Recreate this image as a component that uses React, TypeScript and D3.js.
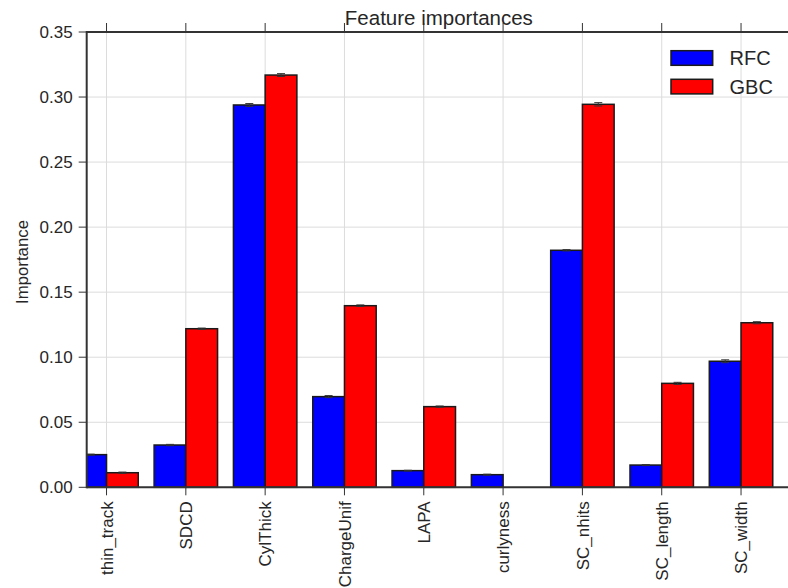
import React from "react";
import * as d3 from "d3";

const features = ["thin_track", "SDCD", "CylThick", "ChargeUnif", "LAPA", "curlyness", "SC_nhits", "SC_length", "SC_width"];
const rfcValues = [0.0251, 0.0325, 0.2939, 0.0697, 0.0128, 0.0097, 0.1822, 0.0171, 0.0969];
const gbcValues = [0.0112, 0.1219, 0.3169, 0.1396, 0.0620, 0.0, 0.2944, 0.0799, 0.1265];
const rfcErrors = [0.0004, 0.0005, 0.0011, 0.0008, 0.0003, 0.0004, 0.0005, 0.0004, 0.0011];
const gbcErrors = [0.0005, 0.0005, 0.0011, 0.0006, 0.0005, 0.0, 0.0013, 0.0008, 0.0008];
const yTicks = [0.0, 0.05, 0.1, 0.15, 0.2, 0.25, 0.3, 0.35];
const seriesNames = ["RFC", "GBC"];
const seriesColors = ["#0000ff", "#ff0000"];

const W = 788, H = 588;
const left = 86.7, right = 791, top = 32, bottom = 487.3;
const barW = 0.4;
const FONT = "'Liberation Sans', Arial, sans-serif";

export default function App() {
  const x = d3.scaleLinear().domain([-0.25, 8.63]).range([left, right]);
  const y = d3.scaleLinear().domain([0, 0.35]).range([bottom, top]);
  const series = [
    { vals: rfcValues, errs: rfcErrors, off: -barW },
    { vals: gbcValues, errs: gbcErrors, off: 0 },
  ];
  return (
    <svg width={W} height={H} style={{ position: "fixed", left: 0, top: 0, background: "#fff" }} fontFamily={FONT}>
      <defs>
        <clipPath id="plot">
          <rect x={left} y={top - 2} width={right - left} height={bottom - top + 4} />
        </clipPath>
      </defs>
      {yTicks.map((t) => (
        <line key={"gy" + t} x1={left} x2={right} y1={y(t)} y2={y(t)} stroke="#dcdcdc" strokeWidth={1} />
      ))}
      {features.map((f, i) => (
        <line key={"gx" + f} x1={x(i)} x2={x(i)} y1={top} y2={bottom} stroke="#dcdcdc" strokeWidth={1} />
      ))}
      <g clipPath="url(#plot)">
        {series.map((s, si) =>
          s.vals.map((v, i) => (
            <rect
              key={si + "-" + i}
              x={x(i + s.off)}
              y={y(v)}
              width={x(i + s.off + barW) - x(i + s.off)}
              height={y(0) - y(v)}
              fill={seriesColors[si]}
              stroke="#1a1a1a"
              strokeWidth={1.5}
            />
          ))
        )}
        {series.map((s, si) =>
          s.vals.map((v, i) => {
            if (s.errs[i] === 0) return null;
            const cx = x(i + s.off + barW / 2);
            const y1 = y(v - s.errs[i]);
            const y2 = y(v + s.errs[i]);
            return (
              <g key={"e" + si + "-" + i} stroke="#333" strokeWidth={1}>
                <line x1={cx} x2={cx} y1={y1} y2={y2} />
                <line x1={cx - 4} x2={cx + 4} y1={y1} y2={y1} />
                <line x1={cx - 4} x2={cx + 4} y1={y2} y2={y2} />
              </g>
            );
          })
        )}
      </g>
      <line x1={left} x2={right} y1={top} y2={top} stroke="#333" strokeWidth={2} />
      <line x1={left} x2={right} y1={bottom} y2={bottom} stroke="#333" strokeWidth={2} />
      <line x1={left} x2={left} y1={top - 1} y2={bottom + 1} stroke="#333" strokeWidth={2} />
      {yTicks.map((t) => (
        <g key={"yt" + t}>
          <line x1={left - 8} x2={left} y1={y(t)} y2={y(t)} stroke="#333" strokeWidth={1} />
          <text x={left - 14} y={y(t)} dy="0.36em" textAnchor="end" fontSize={17} fill="#262626">
            {d3.format(".2f")(t)}
          </text>
        </g>
      ))}
      {features.map((f, i) => (
        <g key={"xt" + f}>
          <line x1={x(i)} x2={x(i)} y1={bottom} y2={bottom + 8} stroke="#333" strokeWidth={1} />
          <line x1={x(i)} x2={x(i)} y1={top - 9} y2={top} stroke="#333" strokeWidth={1} />
          <text
            transform={`translate(${x(i)},${bottom + 14}) rotate(-90)`}
            dy="0.36em"
            textAnchor="end"
            fontSize={17}
            fill="#262626"
          >
            {f}
          </text>
        </g>
      ))}
      <text x={(left + right) / 2} y={25} textAnchor="middle" fontSize={20.5} fill="#262626">
        Feature importances
      </text>
      <text transform={`translate(28,262) rotate(-90)`} textAnchor="middle" fontSize={16.8} fill="#262626">
        Importance
      </text>
      {seriesNames.map((n, si) => (
        <g key={"lg" + n} transform={`translate(671,${50.7 + si * 28.6})`}>
          <rect x={0} y={0} width={41.7} height={14.6} fill={seriesColors[si]} stroke="#1a1a1a" strokeWidth={1.5} />
          <text x={58.5} y={7.3} dy="0.36em" fontSize={20} fill="#262626">
            {n}
          </text>
        </g>
      ))}
    </svg>
  );
}
